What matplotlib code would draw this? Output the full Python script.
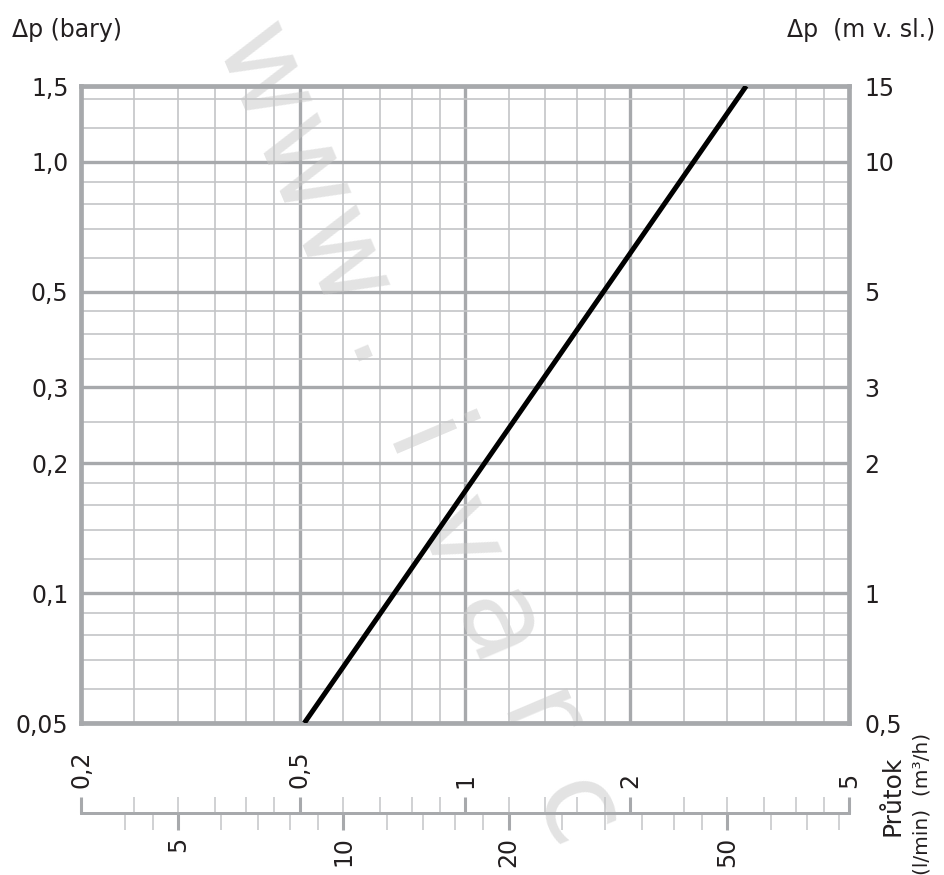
"""
Pressure drop vs. flow chart (log-log) with a double flow scale
"""

import numpy as np
import matplotlib
matplotlib.use('Agg')
import matplotlib.pyplot as plt
from matplotlib.ticker import NullFormatter, NullLocator

W, H = 944, 875

# chart data
flow_m3h = [0.51, 3.25]
dp_bar = [0.05, 1.5]

flow_ticks = [0.2, 0.5, 1, 2, 5]
flow_labels = ['0,2', '0,5', '1', '2', '5']
flow_minor = [0.25, 0.3, 0.35, 0.4, 0.45, 0.6, 0.7, 0.8, 0.9,
              1.2, 1.4, 1.6, 1.8, 2.5, 3, 3.5, 4, 4.5]
lpm_ticks = [5, 10, 20, 50]
lpm_labels = ['5', '10', '20', '50']
lpm_minor = [4, 4.5, 6, 7, 8, 9, 12, 14, 16, 18, 25, 30, 35, 40, 45, 60, 70, 80]
dp_ticks = [0.05, 0.1, 0.2, 0.3, 0.5, 1.0, 1.5]
dp_labels = ['0,05', '0,1', '0,2', '0,3', '0,5', '1,0', '1,5']
dp_minor = [0.06, 0.07, 0.08, 0.09, 0.12, 0.14, 0.16, 0.18, 0.25,
            0.35, 0.4, 0.45, 0.6, 0.7, 0.8, 0.9, 1.2, 1.4]
head_ticks = [0.5, 1, 2, 3, 5, 10, 15]
head_labels = ['0,5', '1', '2', '3', '5', '10', '15']

MAJOR = '#a7a9ac'
MINOR = '#c4c5c7'
TEXT = '#231f20'

plt.rcParams['font.family'] = ['DejaVu Sans']


def fig_rect(x0, y0, x1, y1):
    return [x0 / W, 1 - y1 / H, (x1 - x0) / W, (y1 - y0) / H]


fig = plt.figure(figsize=(W / 100, H / 100), dpi=100)

# main grid
ax = fig.add_axes(fig_rect(81, 86, 849, 723))
ax.set_xscale('log')
ax.set_yscale('log')
ax.set_xlim(0.2, 5)
ax.set_ylim(0.05, 1.5)
ax.set_axisbelow(True)

ax.set_xticks([0.5, 1, 2])
ax.set_xticks(flow_minor, minor=True)
ax.xaxis.set_major_formatter(NullFormatter())
ax.xaxis.set_minor_formatter(NullFormatter())
ax.set_yticks(dp_ticks, labels=dp_labels)
ax.set_yticks(dp_minor, minor=True)
ax.yaxis.set_minor_formatter(NullFormatter())
ax.tick_params(axis='both', which='both', length=0)
ax.tick_params(axis='y', pad=9, labelsize=17, labelcolor=TEXT)

ax.grid(which='major', color=MAJOR, linewidth=2.4)
ax.grid(which='minor', color=MINOR, linewidth=1.2)
for spine in ax.spines.values():
    spine.set_color(MAJOR)
    spine.set_linewidth(3.4)

ax.plot(flow_m3h, dp_bar, color='black', linewidth=3.6,
        solid_capstyle='butt', zorder=3)

# right scale: m water column
head = ax.secondary_yaxis('right', functions=(lambda b: b * 10, lambda m: m / 10))
head.set_yticks(head_ticks, labels=head_labels)
head.yaxis.set_minor_locator(NullLocator())
head.tick_params(length=0, pad=11, labelsize=17, labelcolor=TEXT)
head.spines['right'].set_visible(False)

# watermark, laid between grid and line
ang = np.deg2rad(67)
step = 100
for k, ch in enumerate('www.ivarc'):
    px = 348 + (k - 3) * step * np.cos(ang)
    py = 366 + (k - 3) * step * np.sin(ang)
    ax.text(px / W, 1 - py / H, ch, transform=fig.transFigure,
            rotation=-67, rotation_mode='anchor', ha='center', va='baseline',
            fontsize=86, color='#c8c8c8', alpha=0.5, clip_on=False, zorder=2)

# flow scale below the chart
ax_s = fig.add_axes(fig_rect(81, 812.5, 849, 813))
ax_s.set_xscale('log')
ax_s.set_xlim(0.2, 5)
ax_s.set_yticks([])
ax_s.patch.set_visible(False)
for side in ['left', 'right', 'top']:
    ax_s.spines[side].set_visible(False)
ax_s.spines['bottom'].set_color(MAJOR)
ax_s.spines['bottom'].set_linewidth(2)
ax_s.xaxis.tick_top()
ax_s.set_xticks(flow_ticks, labels=flow_labels)
ax_s.set_xticks(flow_minor, minor=True)
ax_s.xaxis.set_minor_formatter(NullFormatter())
ax_s.tick_params(axis='x', which='major', direction='out', length=11.5, width=2.2,
                 color=MAJOR, pad=6, labelsize=17, labelcolor=TEXT, labelrotation=90)
ax_s.tick_params(axis='x', which='minor', direction='out', length=11.5, width=1.1,
                 color=MINOR)

lpm = ax_s.secondary_xaxis('bottom', functions=(lambda q: q * 1000 / 60,
                                                lambda v: v * 60 / 1000))
lpm.set_xticks(lpm_ticks, labels=lpm_labels)
lpm.set_xticks(lpm_minor, minor=True)
lpm.xaxis.set_minor_formatter(NullFormatter())
lpm.tick_params(axis='x', which='major', direction='out', length=12, width=2.2,
                color=MAJOR, pad=5, labelsize=17, labelcolor=TEXT, labelrotation=90)
lpm.tick_params(axis='x', which='minor', direction='out', length=12, width=1.1,
                color=MINOR)
lpm.spines['bottom'].set_color(MAJOR)
lpm.spines['bottom'].set_linewidth(2)

# titles
fig.text(12 / W, 1 - 30 / H, 'Δp (bary)', ha='left', va='center', fontsize=17, color=TEXT)
fig.text(935 / W, 1 - 30 / H, 'Δp  (m v. sl.)', ha='right', va='center', fontsize=17, color=TEXT)
fig.text(893 / W, 1 - 796 / H, 'Průtok', rotation=90, ha='center', va='center',
         fontsize=18, color=TEXT)
fig.text(922 / W, 1 - 804 / H, '(l/min)  (m³/h)', rotation=90, ha='center', va='center',
         fontsize=14.5, color=TEXT)

fig.savefig('out.png', dpi=100)
